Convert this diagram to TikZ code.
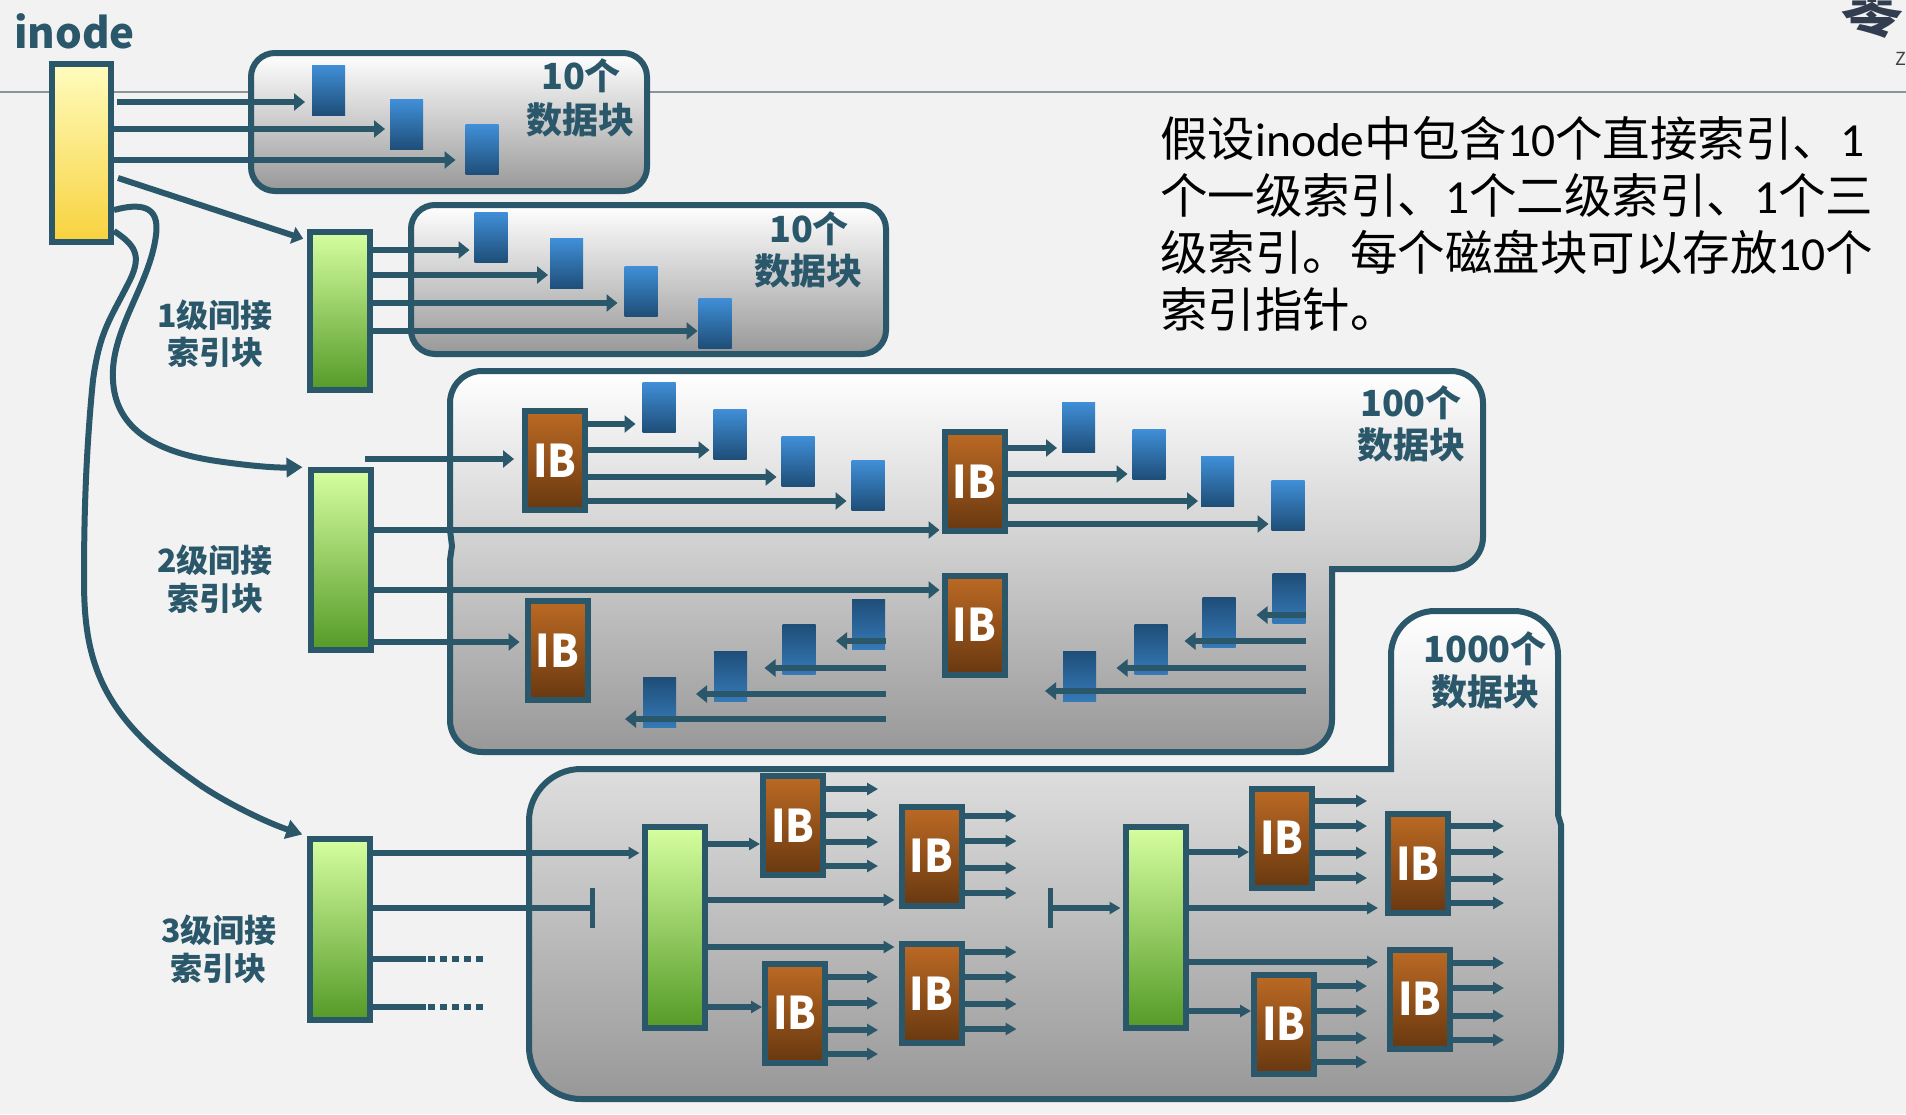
\documentclass[tikz,border=0pt]{standalone}
\usepackage{fontspec}
\setmainfont{Noto Sans CJK SC}
\newfontfamily\lateinisch{Carlito}
\newfontfamily\schmal[FakeStretch=0.92]{Noto Sans CJK SC}
\usepackage{xcolor}
\definecolor{rand}{RGB}{42,87,105}
\definecolor{hinter}{RGB}{242,242,242}
\definecolor{trenner}{RGB}{138,148,153}
\definecolor{grauunten}{RGB}{152,152,152}
\definecolor{gelboben}{RGB}{255,252,190}
\definecolor{gelbunten}{RGB}{248,210,62}
\definecolor{gruenoben}{RGB}{214,255,160}
\definecolor{gruenunten}{RGB}{85,154,40}
\definecolor{braunoben}{RGB}{188,106,36}
\definecolor{braununten}{RGB}{104,56,16}
\definecolor{blauoben}{RGB}{64,143,216}
\definecolor{blauunten}{RGB}{30,78,120}
\definecolor{logofarbe}{RGB}{50,62,80}
\usetikzlibrary{arrows.meta}
\tikzset{
    zeiger/.style={draw=rand,line width=6pt,-{Triangle[length=11pt,width=17pt]},shorten >=5pt},
    klein/.style={draw=rand,line width=6pt,-{Triangle[length=11pt,width=12pt]},shorten >=0pt},
    bogen/.style={draw=rand,line width=6pt,-{Triangle[length=16pt,width=19pt]},shorten >=5pt},
    rueck/.style={zeiger,shorten >=-18pt},
    linie/.style={draw=rand,line width=6pt},
    bereich/.style={draw=rand,line width=6pt,top color=white,bottom color=grauunten},
    gruenblock/.style={draw=rand,line width=6pt,inner sep=0pt,minimum width=60pt,top color=gruenoben,bottom color=gruenunten},
    ibblock/.style={draw=rand,line width=6pt,inner sep=0pt,minimum width=60pt,minimum height=99pt,top color=braunoben,bottom color=braununten,text=white,font=\schmal\bfseries\fontsize{45}{45}\selectfont},
    datenblock/.style={inner sep=0pt,outer sep=0pt,minimum width=33pt,minimum height=50pt,top color=blauoben,bottom color=blauunten},
    datenblockunten/.style={datenblock,top color=blauunten,bottom color=blauoben!85!black},
    titel/.style={text=rand,inner sep=0pt,font=\bfseries\fontsize{36}{36}\selectfont},
    stufe/.style={text=rand,inner sep=0pt,font=\bfseries\fontsize{32}{32}\selectfont},
}

\begin{document}
\begin{tikzpicture}[x=1pt,y=-1pt]
        \fill[hinter] (0,0) rectangle (1906,1114);                              % Hintergrund
        \useasboundingbox (0,0) rectangle (1906,1114);
        \draw[trenner,line width=2pt] (0,92) -- (1906,92);                      % Trennlinie
        \node[text=logofarbe,inner sep=0pt,anchor=base,font=\bfseries\fontsize{62}{62}\selectfont] (logo) at (1872,31) {零};
        \node[text=black!75,inner sep=0pt,anchor=base west,font=\fontsize{18}{18}\selectfont] (logoz) at (1895,65) {Z};
        \node[anchor=base west,inner sep=0pt,text=rand,font=\bfseries\fontsize{42}{42}\selectfont] (inodetext) at (14,48) {inode};
        \node[anchor=north west,inner sep=0pt,align=left,font=\fontsize{47.5}{57}\selectfont] (text) at (1160,116) {假设{\lateinisch inode}中包含{\lateinisch 10}个直接索引、{\lateinisch 1}\\个一级索引、{\lateinisch 1}个二级索引、{\lateinisch 1}个三\\级索引。每个磁盘块可以存放{\lateinisch 10}个\\索引指针。};

        % Bereiche
        \draw[bereich,rounded corners=24pt] (251,53) rectangle (647,191);
        \draw[bereich,rounded corners=24pt] (411,205) rectangle (886,354);
        \draw[bereich,rounded corners=32pt] (450,530) -- (450,371) -- (1483,371) -- (1483,569) [sharp corners] -- (1332,569) [rounded corners=32pt] -- (1332,752) -- (450,752) [sharp corners] -- (450,560) -- (452,546) -- cycle;
        \draw[bereich,rounded corners=44pt] (1391,700) -- (1391,611) -- (1558,611) [sharp corners] -- (1558,815) -- (1561,825) [rounded corners=52pt] -- (1561,1099) -- (529,1099) -- (529,769) [sharp corners] -- (1391,769) -- cycle;

        % Bloecke
        \node[draw=rand,line width=6pt,inner sep=0pt,minimum width=59pt,minimum height=178pt,top color=gelboben,bottom color=gelbunten] (inode) at (81.5,153) {};
        \node[gruenblock,minimum height=158pt] (gruenA) at (340,311) {};
        \node[gruenblock,minimum height=180pt] (gruenB) at (340.5,560) {};
        \node[gruenblock,minimum height=181pt] (gruenC) at (340,929.5) {};
        \node[gruenblock,minimum height=201pt] (gruenD) at (674.5,927.5) {};
        \node[gruenblock,minimum height=201pt] (gruenE) at (1155.5,927.5) {};
        \node[ibblock] (ibA) at (555,460.5) {IB};
        \node[ibblock] (ibB) at (974.5,481.5) {IB};
        \node[ibblock] (ibC) at (557.5,650.5) {IB};
        \node[ibblock] (ibD) at (974.5,625) {IB};
        \node[ibblock] (ibE) at (793,825.5) {IB};
        \node[ibblock] (ibF) at (931.5,856) {IB};
        \node[ibblock] (ibG) at (795,1013) {IB};
        \node[ibblock] (ibH) at (931.5,993.5) {IB};
        \node[ibblock] (ibI) at (1282,838) {IB};
        \node[ibblock] (ibJ) at (1418,863.5) {IB};
        \node[ibblock] (ibK) at (1284,1024) {IB};
        \node[ibblock] (ibL) at (1420,999) {IB};

        % Datenbloecke
        \node[datenblock] (dA) at (328.5,90) {};
        \node[datenblock] (dB) at (406.5,124.5) {};
        \node[datenblock] (dC) at (482,149.5) {};
        \node[datenblock] (dD) at (491,237) {};
        \node[datenblock] (dE) at (566.5,263.5) {};
        \node[datenblock] (dF) at (641,291) {};
        \node[datenblock] (dG) at (715,323) {};
        \node[datenblock] (dH) at (659,407) {};
        \node[datenblock] (dI) at (730,434) {};
        \node[datenblock] (dJ) at (798,461) {};
        \node[datenblock] (dK) at (868,485) {};
        \node[datenblock] (dL) at (1078.5,427) {};
        \node[datenblock] (dM) at (1149,454) {};
        \node[datenblock] (dN) at (1217.5,481) {};
        \node[datenblock] (dO) at (1288,505) {};
        \node[datenblockunten] (dP) at (868.5,624.5) {};
        \node[datenblockunten] (dQ) at (799,649.5) {};
        \node[datenblockunten] (dR) at (730.5,676) {};
        \node[datenblockunten] (dS) at (659.5,702.5) {};
        \node[datenblockunten] (dT) at (1289,598.5) {};
        \node[datenblockunten] (dU) at (1219,622.5) {};
        \node[datenblockunten] (dV) at (1151,649.5) {};
        \node[datenblockunten] (dW) at (1079.5,676) {};

        % Beschriftungen
        \node[titel] (zehnA) at (581,76) {10个};
        \node[titel] (datenA) at (580,120) {数据块};
        \node[titel] (zehnB) at (809,229) {10个};
        \node[titel] (datenB) at (808,271) {数据块};
        \node[titel] (hundert) at (1411,403) {100个};
        \node[titel] (datenC) at (1411,445) {数据块};
        \node[titel] (tausend) at (1485,649) {1000个};
        \node[titel] (datenD) at (1485,692) {数据块};
        \node[stufe] (stufeA) at (215,315) {1级间接};
        \node[stufe] (blockA) at (215,352) {索引块};
        \node[stufe] (stufeB) at (215,560) {2级间接};
        \node[stufe] (blockB) at (215,598) {索引块};
        \node[stufe] (stufeC) at (219,930) {3级间接};
        \node[stufe] (blockC) at (218,968) {索引块};

        % inode Zeiger
        \draw[zeiger,shorten >=7pt] ([xshift=3pt]inode.east |- 0,102) -- (dA.west |- 0,102);
        \draw[zeiger] (inode.east |- 0,129) -- (dB.west |- 0,129);
        \draw[zeiger,shorten >=10pt] (inode.east |- 0,160) -- (dC.west |- 0,160);
        \draw[zeiger,shorten >=4pt] ([xshift=4pt]inode.east |- 0,178) -- ([yshift=-11pt]gruenA.north west);
        \draw[bogen] (inode.east |- 0,210) .. controls (140,203) and (160,205) .. (156,235) .. controls (150,285) and (110,330) .. (113,380) .. controls (115,425) and (150,450) .. (210,460) .. controls (235,464) and (270,468) .. (gruenB.north west);
        \draw[bogen] (inode.east |- 0,231) .. controls (135,245) and (142,255) .. (130,280) .. controls (110,320) and (100,330) .. (93,380) .. controls (85,460) and (84,530) .. (84,580) .. controls (84,660) and (100,715) .. (193,780) .. controls (220,800) and (265,822) .. (gruenC.north west);

        % 1. Stufe
        \draw[zeiger] (gruenA.east |- 0,250) -- (dD.west |- 0,250);
        \draw[zeiger,shorten >=2pt] (gruenA.east |- 0,275) -- (dE.west |- 0,275);
        \draw[zeiger,shorten >=7pt] (gruenA.east |- 0,303) -- (dF.west |- 0,303);
        \draw[zeiger,shorten >=1pt] (gruenA.east |- 0,331) -- (dG.west |- 0,331);

        % 2. Stufe
        \coordinate (einstieg) at (365,459);
        \draw[zeiger,shorten >=8pt] (einstieg) -- (ibA.west |- einstieg);
        \draw[zeiger,shorten >=2pt] (gruenB.east |- 0,530) -- (ibB.west |- 0,530);
        \draw[zeiger,shorten >=2pt] (gruenB.east |- 0,590) -- (ibD.west |- 0,590);
        \draw[zeiger] (gruenB.east |- 0,642) -- (ibC.west |- 0,642);
        \draw[zeiger,shorten >=7pt] (ibA.east |- 0,424) -- (dH.west |- 0,424);
        \draw[zeiger,shorten >=4pt] (ibA.east |- 0,450) -- (dI.west |- 0,450);
        \draw[zeiger] (ibA.east |- 0,477) -- (dJ.west |- 0,477);
        \draw[zeiger] (ibA.east |- 0,501) -- (dK.west |- 0,501);
        \draw[zeiger] (ibB.east |- 0,448) -- (dL.west |- 0,448);
        \draw[zeiger] (ibB.east |- 0,474) -- (dM.west |- 0,474);
        \draw[zeiger,shorten >=3pt] (ibB.east |- 0,501) -- (dN.west |- 0,501);
        \draw[zeiger,shorten >=3pt] (ibB.east |- 0,524) -- (dO.west |- 0,524);
        \coordinate (linksende) at (886,0);
        \coordinate (rechtsende) at (1306,0);
        \draw[rueck,shorten >=-16pt] (linksende |- 0,641) -- (dP.west |- 0,641);
        \draw[rueck] (linksende |- 0,668) -- (dQ.west |- 0,668);
        \draw[rueck] (linksende |- 0,694) -- (dR.west |- 0,694);
        \draw[rueck] (linksende |- 0,719) -- (dS.west |- 0,719);
        \draw[rueck,shorten >=-16pt] (rechtsende |- 0,615) -- (dT.west |- 0,615);
        \draw[rueck] (rechtsende |- 0,641) -- (dU.west |- 0,641);
        \draw[rueck] (rechtsende |- 0,668) -- (dV.west |- 0,668);
        \draw[rueck] (rechtsende |- 0,691) -- (dW.west |- 0,691);

        % 3. Stufe
        \draw[klein,shorten >=2pt] (gruenC.east |- 0,853) -- (gruenD.west |- 0,853);
        \coordinate (balkenA) at (592,908);
        \coordinate (balkenB) at (1050,908);
        \draw[linie] (gruenC.east |- balkenA) -- (balkenA);
        \draw[linie,line width=5pt] (592,888) -- (592,928);                     % Balken links
        \draw[linie,line width=5pt] (1050,888) -- (1050,928);                   % Balken rechts
        \draw[klein,shorten >=2pt] (balkenB) -- (gruenE.west |- balkenB);
        \coordinate (punkteA) at (426,959);
        \coordinate (punkteB) at (426,1007);
        \draw[linie] (gruenC.east |- punkteA) -- (punkteA);
        \draw[linie] (gruenC.east |- punkteB) -- (punkteB);
        \draw[linie,dash pattern=on 7pt off 5pt] ([xshift=2pt]punkteA) -- ++(55,0); % Punkte
        \draw[linie,dash pattern=on 7pt off 5pt] ([xshift=2pt]punkteB) -- ++(55,0); % Punkte
        \draw[klein] (gruenD.east |- 0,844) -- (ibE.west |- 0,844);
        \draw[klein,shorten >=4pt] (gruenD.east |- 0,900) -- (ibF.west |- 0,900);
        \draw[klein,shorten >=4pt] (gruenD.east |- 0,947) -- (ibH.west |- 0,947);
        \draw[klein] (gruenD.east |- 0,1007) -- (ibG.west |- 0,1007);
        \draw[klein] (gruenE.east |- 0,852) -- (ibI.west |- 0,852);
        \draw[klein,shorten >=7pt] (gruenE.east |- 0,908) -- (ibJ.west |- 0,908);
        \draw[klein,shorten >=9pt] (gruenE.east |- 0,962) -- (ibL.west |- 0,962);
        \draw[klein] (gruenE.east |- 0,1011) -- (ibK.west |- 0,1011);

        % Zeiger aus den IB
        \draw[klein] (ibE.east |- 0,789) -- ++(52,0);
        \draw[klein] (ibE.east |- 0,815) -- ++(52,0);
        \draw[klein] (ibE.east |- 0,842) -- ++(52,0);
        \draw[klein] (ibE.east |- 0,866) -- ++(52,0);
        \draw[klein] (ibF.east |- 0,816) -- ++(52,0);
        \draw[klein] (ibF.east |- 0,841) -- ++(52,0);
        \draw[klein] (ibF.east |- 0,868) -- ++(52,0);
        \draw[klein] (ibF.east |- 0,893) -- ++(52,0);
        \draw[klein] (ibG.east |- 0,977) -- ++(50,0);
        \draw[klein] (ibG.east |- 0,1003) -- ++(50,0);
        \draw[klein] (ibG.east |- 0,1030) -- ++(50,0);
        \draw[klein] (ibG.east |- 0,1054) -- ++(50,0);
        \draw[klein] (ibH.east |- 0,952) -- ++(52,0);
        \draw[klein] (ibH.east |- 0,977) -- ++(52,0);
        \draw[klein] (ibH.east |- 0,1004) -- ++(52,0);
        \draw[klein] (ibH.east |- 0,1029) -- ++(52,0);
        \draw[klein] (ibI.east |- 0,801) -- ++(52,0);
        \draw[klein] (ibI.east |- 0,826) -- ++(52,0);
        \draw[klein] (ibI.east |- 0,853) -- ++(52,0);
        \draw[klein] (ibI.east |- 0,878) -- ++(52,0);
        \draw[klein] (ibJ.east |- 0,826) -- ++(53,0);
        \draw[klein] (ibJ.east |- 0,852) -- ++(53,0);
        \draw[klein] (ibJ.east |- 0,879) -- ++(53,0);
        \draw[klein] (ibJ.east |- 0,903) -- ++(53,0);
        \draw[klein] (ibK.east |- 0,986) -- ++(50,0);
        \draw[klein] (ibK.east |- 0,1011) -- ++(50,0);
        \draw[klein] (ibK.east |- 0,1038) -- ++(50,0);
        \draw[klein] (ibK.east |- 0,1062) -- ++(50,0);
        \draw[klein] (ibL.east |- 0,963) -- ++(51,0);
        \draw[klein] (ibL.east |- 0,988) -- ++(51,0);
        \draw[klein] (ibL.east |- 0,1016) -- ++(51,0);
        \draw[klein] (ibL.east |- 0,1040) -- ++(51,0);
\end{tikzpicture}
\end{document}
